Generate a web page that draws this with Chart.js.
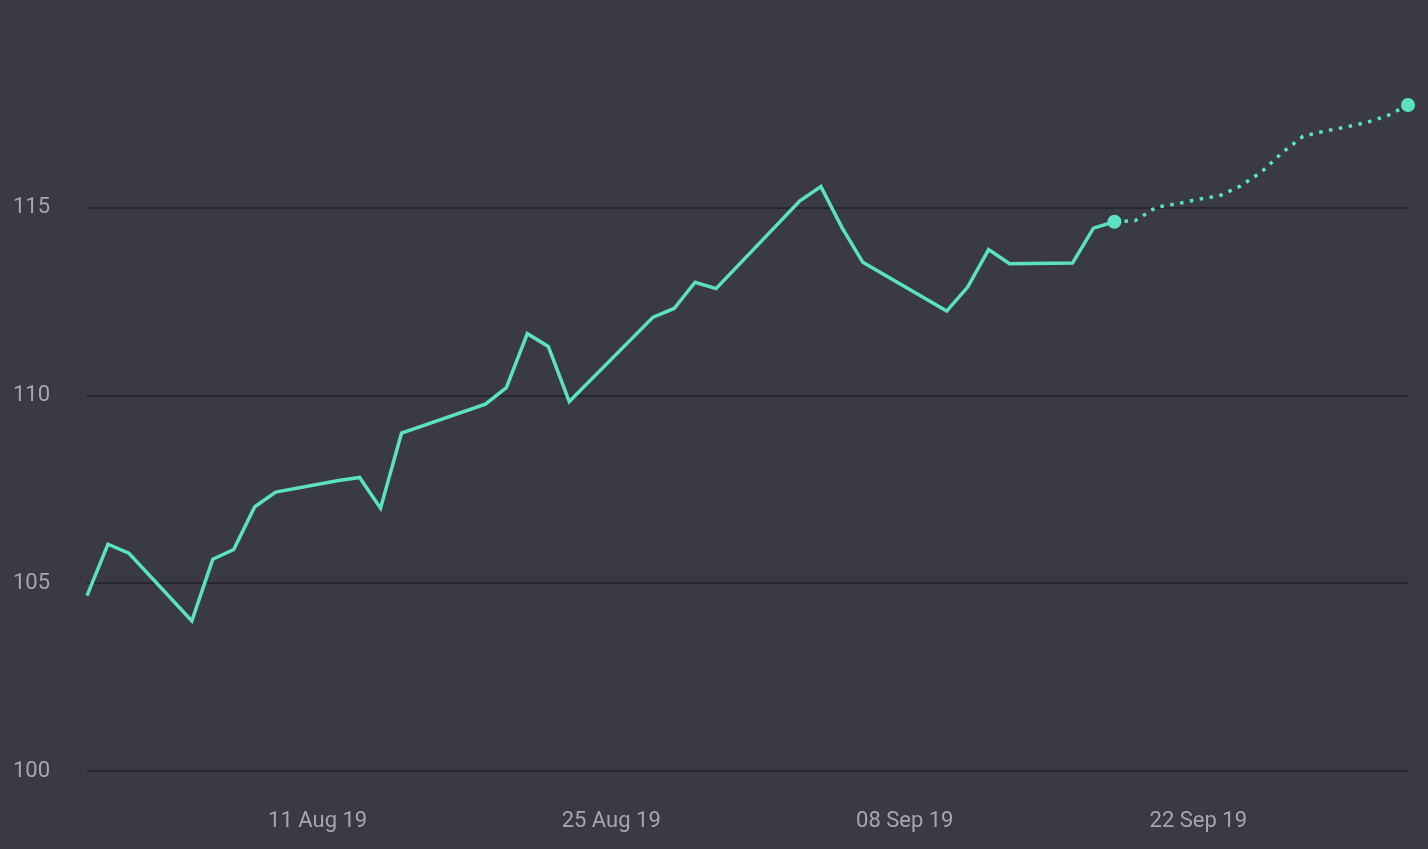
<!DOCTYPE html>
<html>
<head>
<meta charset="utf-8">
<script src="https://cdn.jsdelivr.net/npm/chart.js@4/dist/chart.umd.min.js"></script>
<style>
  html, body { margin: 0; padding: 0; background: #3a3a46; }
  #wrap { width: 1428px; height: 849px; }
</style>
</head>
<body>
<div id="wrap"><canvas id="chart"></canvas></div>
<script>
// dates of observed prices (trading days) and their values
const histDates = ['2019-07-31','2019-08-01','2019-08-02','2019-08-05','2019-08-06','2019-08-07','2019-08-08','2019-08-09',
  '2019-08-12','2019-08-13','2019-08-14','2019-08-15','2019-08-19','2019-08-20','2019-08-21','2019-08-22','2019-08-23',
  '2019-08-27','2019-08-28','2019-08-29','2019-08-30','2019-09-03','2019-09-04','2019-09-05','2019-09-06',
  '2019-09-10','2019-09-11','2019-09-12','2019-09-13','2019-09-16','2019-09-17','2019-09-18'];
const histValues = [104.67, 106.04, 105.80, 104.00, 105.64, 105.90, 107.04, 107.43,
  107.74, 107.82, 107.00, 109.00, 109.77, 110.21, 111.65, 111.31, 109.84,
  112.09, 112.32, 113.02, 112.85, 115.19, 115.57, 114.48, 113.55,
  112.25, 112.89, 113.89, 113.51, 113.53, 114.46, 114.63];

// forecast (dotted)
const fcDates = ['2019-09-18','2019-09-19','2019-09-20','2019-09-21','2019-09-22','2019-09-23','2019-09-24','2019-09-25',
  '2019-09-26','2019-09-27','2019-09-28','2019-09-29','2019-09-30','2019-10-01','2019-10-02'];
const fcValues = [114.63, 114.66, 115.02, 115.11, 115.23, 115.32, 115.58, 115.95,
  116.47, 116.91, 117.04, 117.15, 117.27, 117.45, 117.74];

const tickDates = ['2019-08-11','2019-08-25','2019-09-08','2019-09-22'];
const tickLabels = ['11 Aug 19','25 Aug 19','08 Sep 19','22 Sep 19'];
const yTicks = [100, 105, 110, 115];

const START = Date.UTC(2019, 6, 31);
const DAY = 86400000;
function dayOf(s) {
  const p = s.split('-').map(Number);
  return Math.round((Date.UTC(p[0], p[1] - 1, p[2]) - START) / DAY);
}
const tickDays = tickDates.map(dayOf);

const LINE = '#5ae2c2';
const FONT = "'Roboto', sans-serif";

const lastDot = n => ctx => (ctx.dataIndex === n - 1 ? 7 : 0);

new Chart(document.getElementById('chart'), {
  type: 'line',
  data: {
    datasets: [
      {
        data: histDates.map((d, i) => ({ x: dayOf(d), y: histValues[i] })),
        borderColor: LINE,
        backgroundColor: LINE,
        borderWidth: 3.5,
        pointRadius: lastDot(histDates.length),
        pointBorderWidth: 0,
        tension: 0,
        clip: false
      },
      {
        data: fcDates.map((d, i) => ({ x: dayOf(d), y: fcValues[i] })),
        borderColor: LINE,
        backgroundColor: LINE,
        borderWidth: 3.5,
        borderDash: [3.5, 6.5],
        borderCapStyle: 'butt',
        pointRadius: lastDot(fcDates.length),
        pointBorderWidth: 0,
        tension: 0,
        clip: false
      }
    ]
  },
  options: {
    responsive: true,
    maintainAspectRatio: false,
    animation: false,
    layout: { padding: { top: 17, right: 20, left: 0, bottom: 0 } },
    plugins: { legend: { display: false }, tooltip: { enabled: false } },
    scales: {
      x: {
        type: 'linear',
        min: 0,
        max: dayOf(fcDates[fcDates.length - 1]),
        grid: { display: false, drawTicks: false },
        border: { display: false },
        afterBuildTicks: s => { s.ticks = tickDays.map(v => ({ value: v })); },
        afterFit: s => { s.height = 78; },
        ticks: {
          padding: 37,
          color: '#a6a6b3',
          font: { family: FONT, size: 22 },
          maxRotation: 0,
          callback: v => tickLabels[tickDays.indexOf(v)]
        }
      },
      y: {
        min: 100,
        max: 119.2,
        grid: { color: '#26262f', lineWidth: 2, drawTicks: false },
        border: { display: false },
        afterBuildTicks: s => { s.ticks = yTicks.map(v => ({ value: v })); },
        afterFit: s => { s.width = 87; },
        ticks: {
          padding: 37,
          color: '#a6a6b3',
          font: { family: FONT, size: 22 }
        }
      }
    }
  }
});
</script>
</body>
</html>
